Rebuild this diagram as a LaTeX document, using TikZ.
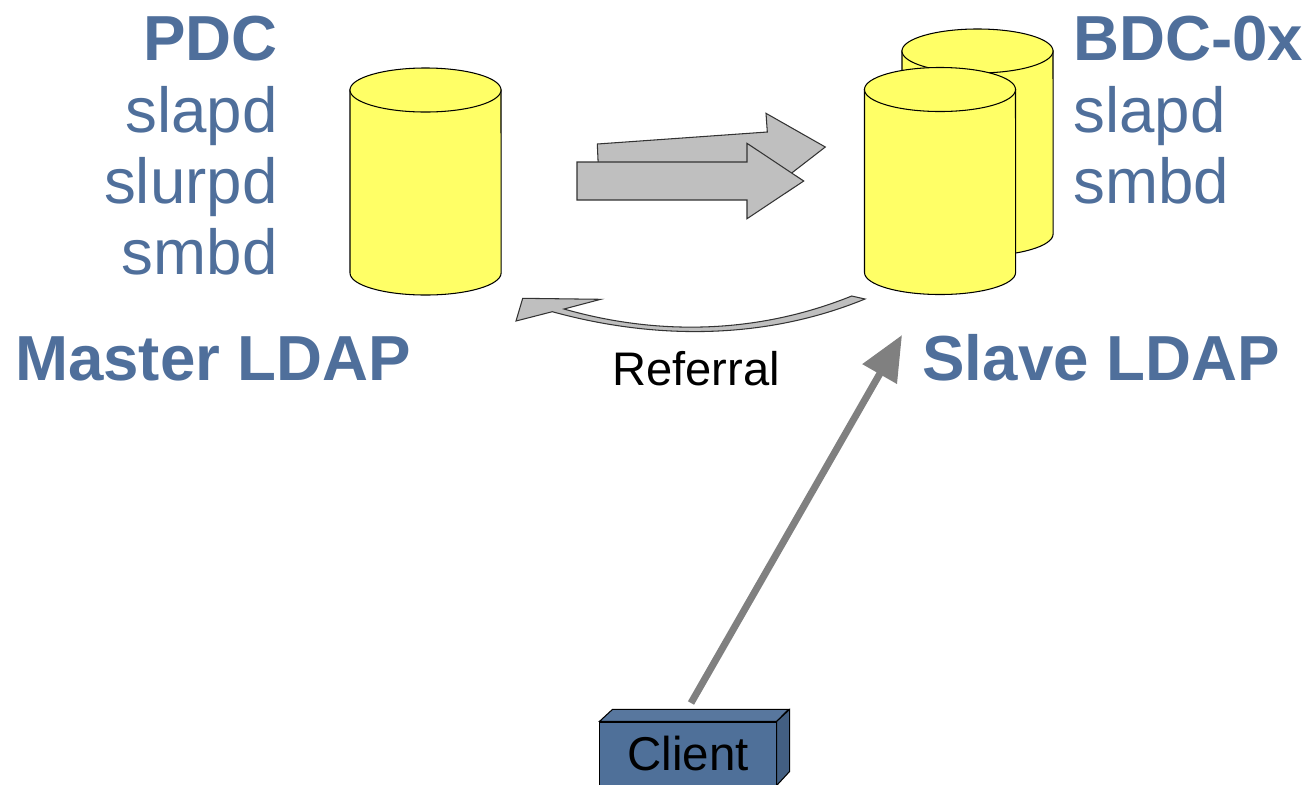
\documentclass[tikz,border=0pt]{standalone}
\usepackage{fontspec}
\setmainfont{Liberation Sans}
\usetikzlibrary{arrows.meta}

\definecolor{labelblue}{HTML}{4F6F9B}
\definecolor{dbyellow}{HTML}{FFFF66}
\definecolor{flowgray}{HTML}{BFBFBF}
\definecolor{clientblue}{HTML}{4F7099}

\begin{document}
\begin{tikzpicture}[x=0.01cm, y=-0.01cm, line width=0.3pt,
    db/.pic={
        \node[inner sep=0pt, minimum width=1.51cm, minimum height=2.27cm] (-body) at (0,0) {};
        \draw[fill=dbyellow] (-75.5,-91.5) -- (-75.5,91.5) arc[start angle=180, end angle=360, x radius=0.755cm, y radius=0.22cm] -- (75.5,-91.5) -- cycle;
        \draw[fill=dbyellow] (0,-91.5) ellipse [x radius=0.755cm, y radius=0.22cm];
    },
    flow/.style={draw=black!80, fill=flowgray, line join=miter},
    biglabel/.style={font=\fontsize{18.1}{20}\selectfont\bfseries, text=labelblue, inner sep=0pt},
    smalllabel/.style={font=\fontsize{18.1}{20}\selectfont, text=labelblue, inner sep=0pt}]
    \useasboundingbox (0,0) rectangle (1312,784);

    % databases
    \pic (pdcdb)    at (425.5,181.5) {db};
    \pic (bdcback)  at (977.5,142.5) {db};
    \pic (bdcfront) at (940,181) {db};

    % labels, master side
    \node[biglabel, anchor=base east]   (pdc)    at (278,60)  {PDC};
    \node[smalllabel, anchor=base east] (slapdm) at (278,132) {slapd};
    \node[smalllabel, anchor=base east] (slurpd) at (278,203) {slurpd};
    \node[smalllabel, anchor=base east] (smbdm)  at (278,274) {smbd};
    \node[biglabel, anchor=base west]   (master) at (14.5,380)  {Master LDAP};

    % labels, slave side
    \node[biglabel, anchor=base west]   (bdc)    at (1073,60)  {BDC-0x};
    \node[smalllabel, anchor=base west] (slapds) at (1073,132) {slapd};
    \node[smalllabel, anchor=base west] (smbds)  at (1073,203) {smbd};
    \node[biglabel, anchor=base west]   (slave)  at (922,380)  {Slave LDAP};

    % replication arrows
    \draw[flow] (597.3,144) -- (767.3,132) -- (766,113.3) -- (825.3,147) -- (771,189) -- (770,170) -- (599,182) -- cycle;
    \draw[flow] (577,162) -- (747,162) -- (747,143.3) -- (803.7,181) -- (747,218.7) -- (747,200) -- (577,200) -- cycle;

    % referral arrow
    \draw[flow] (865,299) .. controls (765,340) and (655,340) .. (552.3,311.7) -- (516,321) -- (522.7,298.3) -- (600.7,299.3) -- (564,309)
        .. controls (655,335) and (755,335) .. (851.7,296) -- cycle;
    \node[font=\fontsize{13.4}{16}\selectfont, inner sep=0pt, anchor=base] (referral) at (696,385) {Referral};

    % client box
    \node[draw=black, fill=clientblue, font=\fontsize{13.5}{16}\selectfont, inner sep=0pt, minimum width=1.76cm, minimum height=0.63cm] (client) at (688,753.5) {Client};
    \draw[fill=clientblue!95!white] (client.north west) -- ++(13,-12) -- ++(176,0) -- (client.north east) -- cycle;
    \draw[fill=clientblue!85!black] (client.north east) -- ++(13,-12) -- ++(0,62) -- (client.south east) -- cycle;

    % client request
    \coordinate (reqstart) at (691,703);
    \coordinate (reqend) at (902,335);
    \draw[-{Triangle[length=0.45cm,width=0.38cm]}, line width=0.07cm, draw=black!50] (reqstart) -- (reqend);
\end{tikzpicture}
\end{document}
